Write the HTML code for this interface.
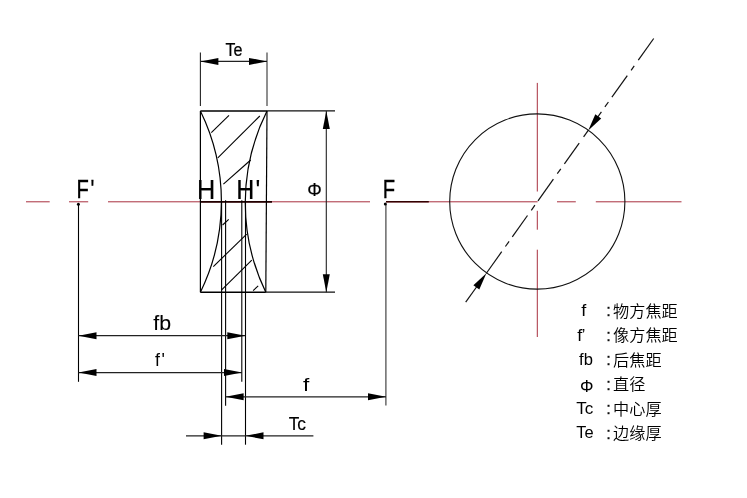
<!DOCTYPE html><html><head><meta charset="utf-8"><title>lens</title><style>html,body{margin:0;padding:0;background:#fff}svg{display:block;will-change:transform}text{font-family:"Liberation Sans","Noto Sans CJK SC",sans-serif;fill:#000}.cj{font-family:"Liberation Sans","Noto Sans CJK SC",sans-serif;font-weight:350}</style></head><body>
<svg width="747" height="498" viewBox="0 0 747 498">
<line x1="26.0" y1="201.8" x2="49.7" y2="201.8" stroke="#a8303f" stroke-width="1" />
<line x1="69.0" y1="201.8" x2="88.2" y2="201.8" stroke="#a8303f" stroke-width="1" />
<line x1="108.0" y1="201.8" x2="370.0" y2="201.8" stroke="#a8303f" stroke-width="1" />
<line x1="386.0" y1="201.8" x2="537.6" y2="201.8" stroke="#a8303f" stroke-width="1" />
<line x1="557.0" y1="201.8" x2="575.8" y2="201.8" stroke="#a8303f" stroke-width="1" />
<line x1="595.8" y1="201.8" x2="681.5" y2="201.8" stroke="#a8303f" stroke-width="1" />
<line x1="537.3" y1="82.9" x2="537.3" y2="191.5" stroke="#a8303f" stroke-width="1" />
<line x1="537.3" y1="210.8" x2="537.3" y2="229.7" stroke="#a8303f" stroke-width="1" />
<line x1="537.3" y1="249.7" x2="537.3" y2="337.0" stroke="#a8303f" stroke-width="1" />
<line x1="200.0" y1="201.8" x2="272.0" y2="201.8" stroke="#200" stroke-width="1.8" />
<line x1="386.0" y1="201.8" x2="428.8" y2="201.8" stroke="#300" stroke-width="1.4" />
<line x1="200.4" y1="111.0" x2="200.4" y2="292.2" stroke="#000" stroke-width="1.2" />
<line x1="267.0" y1="111.0" x2="265.8" y2="292.2" stroke="#000" stroke-width="1.2" />
<line x1="200.4" y1="111.0" x2="267.0" y2="111.0" stroke="#000" stroke-width="1.4" />
<line x1="200.4" y1="292.2" x2="265.8" y2="292.2" stroke="#000" stroke-width="1.4" />
<path d="M200.4,111 A205.9,205.9 0 0 1 200.4,292.2" fill="none" stroke="#000" stroke-width="1.2"/>
<path d="M267,111 A205,205 0 0 0 265.8,292.2" fill="none" stroke="#000" stroke-width="1.2"/>
<line x1="211.3" y1="132.6" x2="229.0" y2="115.3" stroke="#000" stroke-width="1.1" />
<line x1="217.8" y1="157.8" x2="259.8" y2="116.0" stroke="#000" stroke-width="1.1" />
<line x1="223.4" y1="184.1" x2="250.7" y2="160.0" stroke="#000" stroke-width="1.1" />
<line x1="222.6" y1="225.0" x2="228.7" y2="219.4" stroke="#000" stroke-width="1.1" />
<line x1="213.3" y1="266.6" x2="246.7" y2="234.1" stroke="#000" stroke-width="1.1" />
<line x1="221.4" y1="290.2" x2="251.8" y2="260.2" stroke="#000" stroke-width="1.1" />
<line x1="253.1" y1="290.7" x2="258.2" y2="285.9" stroke="#000" stroke-width="1.1" />
<line x1="200.4" y1="52.5" x2="200.4" y2="106.0" stroke="#222" stroke-width="1.1" />
<line x1="267.0" y1="52.5" x2="267.0" y2="106.0" stroke="#333" stroke-width="1.1" />
<line x1="200.4" y1="61.4" x2="267.0" y2="61.4" stroke="#222" stroke-width="1.1" />
<polygon points="200.4,61.4 218.4,57.9 218.4,64.9" fill="#000"/>
<polygon points="267.0,61.4 249.0,64.9 249.0,57.9" fill="#000"/>
<line x1="267.0" y1="110.9" x2="335.0" y2="110.9" stroke="#111" stroke-width="1.25" />
<line x1="265.8" y1="292.2" x2="335.0" y2="292.2" stroke="#111" stroke-width="1.2" />
<line x1="326.3" y1="111.0" x2="326.3" y2="292.2" stroke="#222" stroke-width="1.1" />
<polygon points="326.3,111.0 329.8,129.0 322.8,129.0" fill="#000"/>
<polygon points="326.3,292.2 322.8,274.2 329.8,274.2" fill="#000"/>
<line x1="221.6" y1="201.8" x2="221.6" y2="444.7" stroke="#000" stroke-width="1.1" />
<line x1="225.6" y1="200.3" x2="225.6" y2="405.8" stroke="#000" stroke-width="1.1" />
<line x1="241.8" y1="200.3" x2="241.8" y2="381.7" stroke="#000" stroke-width="1.1" />
<line x1="245.5" y1="201.8" x2="245.5" y2="444.7" stroke="#000" stroke-width="1.1" />
<line x1="78.5" y1="204.0" x2="78.5" y2="381.8" stroke="#000" stroke-width="1.1" />
<circle cx="78.4" cy="204.2" r="1.5" fill="#000"/>
<line x1="385.9" y1="204.0" x2="385.9" y2="405.6" stroke="#444" stroke-width="1.2" />
<circle cx="385.3" cy="204" r="1.5" fill="#000"/>
<line x1="78.5" y1="335.7" x2="245.3" y2="335.7" stroke="#222" stroke-width="1.2" />
<polygon points="78.5,335.7 96.5,332.2 96.5,339.2" fill="#000"/>
<polygon points="245.3,335.7 227.3,339.2 227.3,332.2" fill="#000"/>
<line x1="78.5" y1="372.6" x2="242.0" y2="372.6" stroke="#222" stroke-width="1.2" />
<polygon points="78.5,372.6 96.5,369.1 96.5,376.1" fill="#000"/>
<polygon points="242.0,372.6 224.0,376.1 224.0,369.1" fill="#000"/>
<line x1="225.6" y1="396.8" x2="386.0" y2="396.8" stroke="#222" stroke-width="1.2" />
<polygon points="225.6,396.8 243.6,393.3 243.6,400.3" fill="#000"/>
<polygon points="386.0,396.8 368.0,400.3 368.0,393.3" fill="#000"/>
<line x1="186.0" y1="435.8" x2="313.4" y2="435.8" stroke="#222" stroke-width="1.2" />
<polygon points="221.6,435.8 203.6,439.3 203.6,432.3" fill="#000"/>
<polygon points="245.5,435.8 263.5,432.3 263.5,439.3" fill="#000"/>
<circle cx="537.3" cy="201.5" r="87.6" fill="none" stroke="#111" stroke-width="1.1"/>
<line x1="653.7" y1="38.5" x2="638.3" y2="60.1" stroke="#111" stroke-width="1.2" />
<line x1="634.2" y1="65.8" x2="631.1" y2="70.3" stroke="#111" stroke-width="1.2" />
<line x1="627.3" y1="75.6" x2="611.9" y2="97.2" stroke="#111" stroke-width="1.2" />
<line x1="608.4" y1="102.0" x2="604.9" y2="106.9" stroke="#111" stroke-width="1.2" />
<line x1="601.4" y1="111.9" x2="597.7" y2="117.1" stroke="#111" stroke-width="1.2" />
<line x1="588.4" y1="130.1" x2="583.6" y2="136.9" stroke="#111" stroke-width="1.2" />
<line x1="579.2" y1="143.1" x2="564.4" y2="163.8" stroke="#111" stroke-width="1.2" />
<line x1="560.8" y1="168.9" x2="557.3" y2="173.7" stroke="#111" stroke-width="1.2" />
<line x1="553.4" y1="179.2" x2="538.0" y2="200.8" stroke="#111" stroke-width="1.2" />
<line x1="534.9" y1="205.1" x2="531.3" y2="210.3" stroke="#111" stroke-width="1.2" />
<line x1="527.5" y1="215.5" x2="512.3" y2="236.8" stroke="#111" stroke-width="1.2" />
<line x1="509.1" y1="241.4" x2="505.4" y2="246.5" stroke="#111" stroke-width="1.2" />
<line x1="501.7" y1="251.7" x2="486.2" y2="273.5" stroke="#111" stroke-width="1.2" />
<line x1="476.9" y1="286.5" x2="465.7" y2="302.2" stroke="#111" stroke-width="1.2" />
<polygon points="588.2,130.4 595.3,114.2 601.2,118.4" fill="#000"/>
<polygon points="486.4,273.2 479.3,289.4 473.4,285.2" fill="#000"/>
<text transform="translate(225.44,55.60) scale(0.897,1)" font-size="18.02" fill="#000" stroke="#000" stroke-width="0.25">Te</text>
<text transform="translate(196.92,199.45) scale(0.939,1)" font-size="26.96" fill="#000" stroke="#000" stroke-width="0.2">H</text>
<text transform="translate(236.14,199.45) scale(0.932,1)" font-size="26.96" fill="#000" stroke="#000" stroke-width="0.2">H<tspan dx="1.42">'</tspan></text>
<text transform="translate(76.55,197.60) scale(0.762,1)" font-size="26.45" fill="#000" stroke="#000" stroke-width="0.35">F<tspan dx="2.24">'</tspan></text>
<text transform="translate(382.74,198.20) scale(0.765,1)" font-size="26.45" fill="#000" stroke="#000" stroke-width="0.35">F</text>
<text transform="translate(307.2,196) scale(0.96,1)" font-size="19" stroke="#111" stroke-width="0.2">Φ</text>
<text transform="translate(153.30,330.30) scale(1.097,1)" font-size="19.45" fill="#000" stroke="#000" stroke-width="0.1">fb</text>
<text transform="translate(154.95,366.40) scale(0.924,1)" font-size="19.20" fill="#000">f<tspan dx="1.75">'</tspan></text>
<text transform="translate(302.88,391.40) scale(1.197,1)" font-size="18.92" fill="#000">f</text>
<text transform="translate(288.72,430.40) scale(0.946,1)" font-size="18.31" fill="#000" stroke="#000" stroke-width="0.2">Tc</text>
<text transform="translate(581.35,316.15) scale(1.116,1)" font-size="16.23" fill="#333">f</text>
<text x="606.2" y="316.35" font-size="16.5" fill="#333" stroke="#333" stroke-width="0.35">:</text>
<text class="cj"  x="613.1" y="316.85" font-size="16.15" fill="#333">物方焦距</text>
<text transform="translate(577.25,340.58) scale(1.093,1)" font-size="16.23" fill="#333">f<tspan dx="-0.62">’</tspan></text>
<text x="606.2" y="340.78" font-size="16.5" fill="#333" stroke="#333" stroke-width="0.35">:</text>
<text class="cj"  x="613.1" y="341.28" font-size="16.15" fill="#333">像方焦距</text>
<text transform="translate(579.07,365.01) scale(1.023,1)" font-size="16.21" fill="#333">fb</text>
<text x="606.2" y="365.21" font-size="16.5" fill="#333" stroke="#333" stroke-width="0.35">:</text>
<text class="cj"  x="613.1" y="365.71" font-size="16.15" fill="#333">后焦距</text>
<text transform="translate(579.9,391.64) scale(1.0,1)" font-size="16.9" fill="#333">Φ</text>
<text x="606.2" y="389.64" font-size="16.5" fill="#333" stroke="#333" stroke-width="0.35">:</text>
<text class="cj"  x="613.1" y="390.14" font-size="16.15" fill="#333">直径</text>
<text transform="translate(576.32,413.87) scale(1.042,1)" font-size="16.42" fill="#333">Tc</text>
<text x="606.2" y="414.07" font-size="16.5" fill="#333" stroke="#333" stroke-width="0.35">:</text>
<text class="cj"  x="613.1" y="414.57" font-size="16.15" fill="#333">中心厚</text>
<text transform="translate(576.34,438.30) scale(1.002,1)" font-size="16.42" fill="#333">Te</text>
<text x="606.2" y="438.50" font-size="16.5" fill="#333" stroke="#333" stroke-width="0.35">:</text>
<text class="cj"  x="613.1" y="439.00" font-size="16.15" fill="#333">边缘厚</text>
</svg></body></html>
